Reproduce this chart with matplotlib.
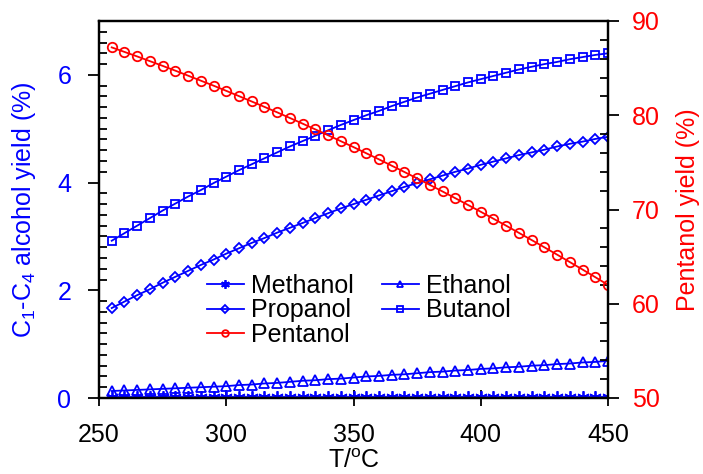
import matplotlib
matplotlib.use("Agg")
import matplotlib.pyplot as plt
from matplotlib.ticker import MultipleLocator

plt.rcParams['font.family'] = ['Liberation Sans', 'DejaVu Sans']
plt.rcParams['mathtext.fontset'] = 'custom'
plt.rcParams['mathtext.rm'] = 'Liberation Sans'
plt.rcParams['mathtext.it'] = 'Liberation Sans'

temperature = list(range(255, 451, 5))

methanol = [0.01] * 40
ethanol = [0.13, 0.14, 0.15, 0.16, 0.17, 0.18, 0.19, 0.20, 0.21, 0.22,
           0.24, 0.25, 0.27, 0.28, 0.30, 0.32, 0.33, 0.35, 0.36, 0.38,
           0.40, 0.41, 0.43, 0.44, 0.46, 0.48, 0.49, 0.51, 0.52, 0.54,
           0.55, 0.57, 0.58, 0.60, 0.61, 0.63, 0.64, 0.66, 0.67, 0.69]
propanol = [1.67, 1.79, 1.91, 2.02, 2.14, 2.25, 2.36, 2.47, 2.57, 2.68,
            2.78, 2.88, 2.97, 3.07, 3.16, 3.25, 3.34, 3.43, 3.52, 3.60,
            3.68, 3.76, 3.84, 3.92, 3.99, 4.06, 4.13, 4.20, 4.26, 4.33,
            4.39, 4.45, 4.51, 4.56, 4.61, 4.67, 4.72, 4.76, 4.81, 4.85]
butanol = [2.92, 3.06, 3.20, 3.34, 3.48, 3.61, 3.74, 3.86, 3.99, 4.11,
           4.23, 4.34, 4.45, 4.56, 4.67, 4.77, 4.87, 4.97, 5.07, 5.16,
           5.25, 5.33, 5.42, 5.50, 5.58, 5.65, 5.72, 5.79, 5.86, 5.92,
           5.98, 6.04, 6.10, 6.15, 6.20, 6.24, 6.29, 6.33, 6.37, 6.40]
pentanol = [87.20, 86.72, 86.24, 85.74, 85.24, 84.73, 84.20, 83.67, 83.14, 82.59,
            82.03, 81.46, 80.89, 80.31, 79.71, 79.11, 78.50, 77.88, 77.25, 76.62,
            75.97, 75.32, 74.65, 73.98, 73.30, 72.61, 71.91, 71.20, 70.48, 69.76,
            69.02, 68.28, 67.52, 66.76, 65.99, 65.21, 64.42, 63.63, 62.82, 62.00]

x_ticks = [250, 300, 350, 400, 450]
left_ticks = [0, 2, 4, 6]
right_ticks = [50, 60, 70, 80, 90]

FS = 18
blue = '#0000ff'
red = '#ff0000'

fig = plt.figure(figsize=(7.03, 4.74), dpi=100)
ax = fig.add_axes([99/703, 1-398/474, (608-99)/703, (398-21)/474])
ax2 = ax.twinx()

l1, = ax.plot(temperature, methanol, color=blue, marker=(6, 2, 0), label='Methanol', lw=1.3, mew=1.3, ms=9)
l2, = ax.plot(temperature, ethanol, color=blue, marker='^', label='Ethanol', lw=1.3, mew=1.3, mfc='none', ms=6.8)
l3, = ax.plot(temperature, propanol, color=blue, marker='D', label='Propanol', lw=1.3, mew=1.3, mfc='none', ms=5.2)
l4, = ax.plot(temperature, butanol, color=blue, marker='s', label='Butanol', lw=1.3, mew=1.3, mfc='none', ms=6.2)
l5, = ax2.plot(temperature, pentanol, color=red, marker='o', label='Pentanol', lw=1.3, mew=1.3, mfc='none', ms=6.8)

ax.set_xlim(250, 450)
ax.set_ylim(0, 7)
ax2.set_ylim(50, 90)
ax.set_xticks(x_ticks)
ax.set_yticks(left_ticks)
ax2.set_yticks(right_ticks)
ax.yaxis.set_minor_locator(MultipleLocator(0.2))
ax2.yaxis.set_minor_locator(MultipleLocator(2))

ax.tick_params(axis='x', which='major', direction='inout', length=12, width=1.3, labelsize=FS, top=False, pad=12)
ax.tick_params(axis='y', which='major', direction='out', length=8, width=1.3, labelsize=FS, labelcolor=blue, pad=12)
ax.tick_params(axis='y', which='minor', direction='in', length=6, width=1.3)
ax2.tick_params(axis='y', which='major', direction='out', length=8, width=1.3, labelsize=FS, labelcolor=red, pad=9)
ax2.tick_params(axis='y', which='minor', direction='in', length=6, width=1.3)

for a in (ax, ax2):
    for s in a.spines.values():
        s.set_linewidth(1.6)

ax.set_xlabel('T/$^{\\mathrm{o}}$C', fontsize=FS, labelpad=1.5)
ax.set_ylabel('C$_1$-C$_4$ alcohol yield (%)', fontsize=FS, color=blue, labelpad=14)
ax2.set_ylabel('Pentanol yield (%)', fontsize=FS, color=red, labelpad=12)

handles = [l1, l3, l5, l2, l4]
ax.legend(handles, [h.get_label() for h in handles], ncol=2, frameon=False,
          fontsize=FS, loc='upper left', bbox_to_anchor=(0.212, 0.329),
          markerscale=0.7, handlelength=1.48, handletextpad=0.3,
          columnspacing=1.1, labelspacing=0.02, borderpad=0, borderaxespad=0)

fig.savefig('out.png', dpi=100)
